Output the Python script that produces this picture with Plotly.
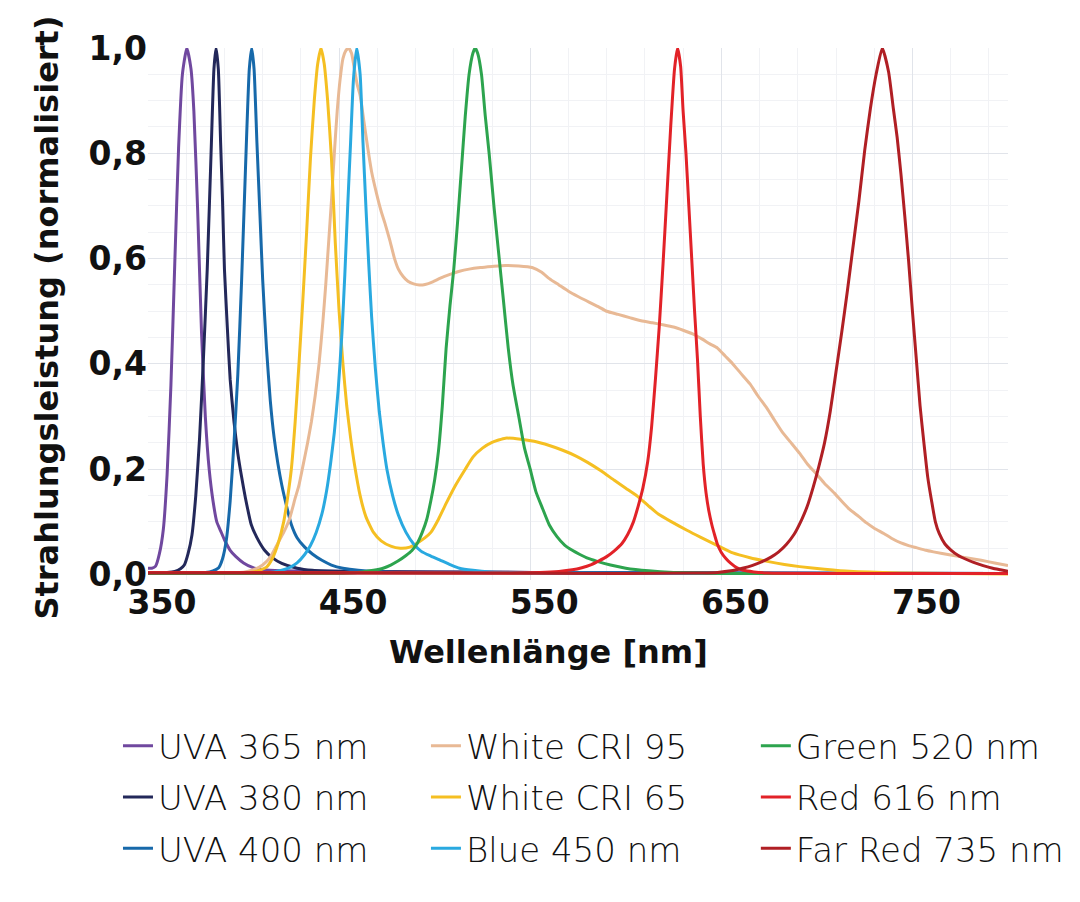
import plotly.graph_objects as go

# Spectral data (wavelength in nm, normalised power)
wl_uva365 = [350, 352, 354, 356, 358, 360, 362, 364, 366, 368, 370.3, 372.5, 374, 376, 378, 380,
             382, 384, 386, 388, 390, 393, 396, 400, 405, 410, 420, 450, 500, 600, 800]
val_uva365 = [0.012, 0.012, 0.016, 0.04, 0.085, 0.19, 0.36, 0.59, 0.81, 0.95, 1.0, 0.96, 0.88,
              0.69, 0.46, 0.30, 0.20, 0.14, 0.10, 0.083, 0.066, 0.046, 0.034, 0.022, 0.013, 0.009,
              0.007, 0.006, 0.005, 0.003, 0.002]

wl_uva380 = [350, 360, 364, 367, 369, 371, 373, 375, 377, 379, 381, 383, 384.5, 385.6, 386.8, 388,
             389, 390, 391.5, 393, 395, 397, 399, 401, 404, 407, 411, 415, 420, 428, 436, 453,
             500, 600, 800]
val_uva380 = [0.003, 0.004, 0.006, 0.011, 0.018, 0.04, 0.075, 0.15, 0.26, 0.41, 0.58, 0.80, 0.96,
              1.0, 0.96, 0.82, 0.71, 0.58, 0.47, 0.37, 0.29, 0.23, 0.185, 0.145, 0.095, 0.07,
              0.046, 0.032, 0.021, 0.012, 0.008, 0.006, 0.005, 0.003, 0.002]

wl_uva400 = [350, 380, 384, 387, 389, 391, 393, 395, 397, 399, 401, 403, 404.25, 405.5, 407, 408.5,
             410, 412, 414, 416, 418, 420, 422.5, 425, 428, 432, 436, 441, 446, 452, 460, 480, 800]
val_uva400 = [0.003, 0.004, 0.007, 0.013, 0.03, 0.066, 0.14, 0.25, 0.38, 0.56, 0.77, 0.96, 1.0,
              0.96, 0.82, 0.69, 0.56, 0.43, 0.33, 0.26, 0.21, 0.17, 0.13, 0.095, 0.07, 0.052,
              0.039, 0.027, 0.018, 0.012, 0.008, 0.004, 0.002]

wl_cri95 = [350, 398, 402, 406, 410, 414, 418, 421, 424, 427, 429, 431, 433.5, 435.5, 437.5, 439.5,
            441.5, 443, 444.5, 446, 447.5, 449, 450.5, 452, 453.5, 455, 456.5, 458, 459.5, 461,
            463, 465, 467, 469.5, 472, 474, 476.5, 479, 481, 483.5, 486, 489, 492, 495, 499,
            503, 508, 513, 518, 524, 530, 537, 544, 551, 556, 560, 565, 570, 575, 581, 586,
            590, 596, 602, 608, 614, 620, 625, 630, 635, 640, 644, 648, 652, 656, 660, 665,
            669, 674, 678, 682, 687, 691, 695, 700, 704, 709, 713, 717, 722, 726, 730, 735,
            739, 744, 748, 752, 757, 761, 770, 778, 786, 793, 800]
val_cri95 = [0.003, 0.004, 0.006, 0.01, 0.018, 0.033, 0.06, 0.08, 0.105, 0.145, 0.17, 0.205, 0.25,
             0.29, 0.34, 0.40, 0.48, 0.55, 0.63, 0.71, 0.80, 0.88, 0.94, 0.98, 0.995, 1.0, 0.99,
             0.96, 0.93, 0.91, 0.86, 0.81, 0.765, 0.725, 0.69, 0.667, 0.635, 0.60, 0.58, 0.566,
             0.557, 0.552, 0.55, 0.551, 0.556, 0.563, 0.57, 0.576, 0.58, 0.583, 0.585, 0.587,
             0.586, 0.583, 0.574, 0.562, 0.55, 0.538, 0.528, 0.517, 0.508, 0.50, 0.494, 0.488,
             0.482, 0.478, 0.474, 0.47, 0.464, 0.457, 0.447, 0.438, 0.43, 0.415, 0.40, 0.383,
             0.362, 0.34, 0.315, 0.292, 0.27, 0.248, 0.23, 0.21, 0.19, 0.173, 0.155, 0.139,
             0.124, 0.11, 0.098, 0.088, 0.078, 0.069, 0.06, 0.055, 0.051, 0.046, 0.043, 0.037,
             0.032, 0.027, 0.022, 0.017]

wl_cri65 = [350, 400, 405, 409, 412, 415, 418, 421, 423, 425, 427, 429, 431, 433, 435, 437, 438.8,
            440.5, 442.2, 444, 446, 448, 450, 452, 454, 456, 458, 461, 464, 468, 472, 477, 482,
            487, 491, 495, 498, 502, 506, 511, 516, 520, 525, 530, 537, 545, 552, 560, 567,
            574, 580, 587, 594, 600, 606, 612, 617, 624, 632, 639, 648, 656, 665, 674, 683,
            691, 704, 717, 743, 770, 800]
val_cri65 = [0.003, 0.003, 0.005, 0.009, 0.014, 0.03, 0.058, 0.10, 0.145, 0.20, 0.29, 0.40, 0.52,
             0.65, 0.79, 0.90, 0.97, 1.0, 0.97, 0.90, 0.79, 0.63, 0.50, 0.40, 0.32, 0.26, 0.21,
             0.15, 0.11, 0.08, 0.064, 0.054, 0.05, 0.052, 0.06, 0.07, 0.08, 0.105, 0.135, 0.17,
             0.20, 0.223, 0.24, 0.251, 0.259, 0.257, 0.253, 0.245, 0.236, 0.225, 0.213, 0.197,
             0.179, 0.164, 0.149, 0.13, 0.115, 0.10, 0.084, 0.071, 0.055, 0.041, 0.032, 0.025,
             0.019, 0.015, 0.01, 0.006, 0.003, 0.002, 0.001]

wl_blue450 = [350, 410, 416, 420, 424, 428, 432, 435, 438, 441, 443.5, 445.5, 447.5, 449.5, 451.5,
              453, 454.5, 456, 457.5, 459.2, 461, 462.5, 464, 465.5, 467, 469, 471, 473, 475,
              478, 481, 485, 489, 493, 498, 503, 508, 513, 520, 529, 550, 600, 800]
val_blue450 = [0.002, 0.003, 0.005, 0.008, 0.013, 0.022, 0.038, 0.055, 0.08, 0.115, 0.16, 0.21,
               0.27, 0.35, 0.46, 0.57, 0.70, 0.82, 0.94, 1.0, 0.95, 0.82, 0.70, 0.59, 0.49, 0.39,
               0.31, 0.25, 0.20, 0.15, 0.113, 0.08, 0.058, 0.044, 0.035, 0.027, 0.019, 0.012,
               0.008, 0.005, 0.003, 0.002, 0.002]

wl_green520 = [350, 455, 462, 468, 473, 477, 481, 485, 488, 491, 493.5, 495.8, 498, 500, 502, 504,
               506, 508, 510, 512, 514, 516, 518, 520, 521.2, 522.5, 524.5, 526.5, 528.5, 531,
               533.5, 536, 538.5, 541, 544, 547, 550, 553, 556.5, 560, 564, 568, 572, 576, 580,
               585, 592, 600, 612, 625, 650, 800]
val_green520 = [0.002, 0.003, 0.005, 0.008, 0.012, 0.018, 0.026, 0.036, 0.045, 0.06, 0.08, 0.104,
                0.14, 0.18, 0.235, 0.32, 0.43, 0.51, 0.58, 0.67, 0.77, 0.87, 0.95, 0.99, 1.0, 0.99,
                0.95, 0.87, 0.80, 0.70, 0.61, 0.52, 0.43, 0.36, 0.30, 0.24, 0.20, 0.157, 0.125,
                0.094, 0.072, 0.056, 0.046, 0.038, 0.031, 0.025, 0.018, 0.012, 0.007, 0.004,
                0.002, 0.002]

wl_red616 = [350, 540, 555, 565, 572, 577, 582, 586, 590, 594, 598, 601, 604, 606.5, 609, 611.5,
             613.5, 615.5, 617.5, 619.5, 621.5, 623.5, 625.5, 627.1, 628.7, 630, 631.5, 633,
             634.5, 636, 637.5, 639, 640.5, 642, 643.5, 645, 646.5, 648, 650, 652.5, 655, 658,
             661.5, 667, 674, 800]
val_red616 = [0.004, 0.003, 0.004, 0.006, 0.009, 0.013, 0.019, 0.026, 0.034, 0.045, 0.059, 0.076,
              0.10, 0.13, 0.165, 0.215, 0.28, 0.37, 0.47, 0.59, 0.72, 0.85, 0.96, 1.0, 0.965,
              0.88, 0.80, 0.70, 0.60, 0.50, 0.41, 0.30, 0.21, 0.155, 0.12, 0.095, 0.075, 0.057,
              0.042, 0.03, 0.021, 0.013, 0.008, 0.005, 0.003, 0.002]

wl_farred735 = [350, 600, 640, 648, 655, 661, 666, 671, 676, 680, 684, 688, 692, 695, 698, 701,
                704, 707, 710, 713, 716, 719, 722, 725, 728, 731, 734.2, 737.5, 740, 742, 744,
                746, 748, 750, 752, 754, 756, 758, 760, 762, 764, 767, 770, 774, 778, 782, 787,
                792, 796, 800]
val_farred735 = [0.003, 0.002, 0.003, 0.004, 0.007, 0.012, 0.017, 0.024, 0.033, 0.043, 0.057,
                 0.076, 0.104, 0.13, 0.165, 0.205, 0.25, 0.31, 0.385, 0.46, 0.54, 0.625, 0.71,
                 0.805, 0.885, 0.95, 1.0, 0.955, 0.885, 0.83, 0.76, 0.68, 0.595, 0.50, 0.41,
                 0.32, 0.25, 0.185, 0.14, 0.10, 0.078, 0.058, 0.047, 0.036, 0.029, 0.023, 0.017,
                 0.012, 0.009, 0.006]

x_ticks = [350, 450, 550, 650, 750]

series = [
    ("UVA 365 nm", wl_uva365, val_uva365, "#70489f", "legend"),
    ("UVA 380 nm", wl_uva380, val_uva380, "#23285a", "legend"),
    ("UVA 400 nm", wl_uva400, val_uva400, "#1769aa", "legend"),
    ("White CRI 95", wl_cri95, val_cri95, "#e8b995", "legend2"),
    ("White CRI 65", wl_cri65, val_cri65, "#f5bf22", "legend2"),
    ("Blue 450 nm", wl_blue450, val_blue450, "#29a9e0", "legend2"),
    ("Green 520 nm", wl_green520, val_green520, "#2da44e", "legend3"),
    ("Red 616 nm", wl_red616, val_red616, "#e22228", "legend3"),
    ("Far Red 735 nm", wl_farred735, val_farred735, "#b01f24", "legend3"),
]

fig = go.Figure()
for name, wl, val, color, leg in series:
    fig.add_trace(go.Scatter(
        x=wl, y=val, name=name, mode="lines",
        line=dict(color=color, width=3, shape="spline", smoothing=0.5),
        legend=leg, legendgroup=name,
    ))

tick_font = dict(family="DejaVu Sans", size=33, color="#111111", weight="bold")
title_font = dict(family="DejaVu Sans", size=32, color="#111111", weight="bold")
legend_font = dict(family="DejaVu Sans", size=34, color="#111111", weight=200)


def legend_box(x):
    return dict(x=x, y=-0.258, xanchor="left", yanchor="top", orientation="v",
                font=legend_font, bgcolor="rgba(0,0,0,0)", tracegroupgap=4, itemwidth=30)


# the page body adds an 8 px offset, so the margins are pulled in by 8 px
fig.update_layout(
    width=1080,
    height=902,
    margin=dict(l=140, r=80, t=40, b=330, autoexpand=False),
    plot_bgcolor="white",
    paper_bgcolor="white",
    separators=", ",
    showlegend=True,
    legend=legend_box(-0.0349),
    legend2=legend_box(0.3232),
    legend3=legend_box(0.7068),
    annotations=[
        dict(text="Wellenlänge [nm]", xref="paper", yref="paper", x=0.466, y=-0.135,
             xanchor="center", yanchor="middle", showarrow=False, font=title_font),
        dict(text="Strahlungsleistung (normalisiert)", xref="paper", yref="paper",
             x=-0.118, y=0.4925, xanchor="center", yanchor="middle", textangle=-90,
             showarrow=False, font=title_font),
    ],
)

fig.update_xaxes(
    range=[350, 800],
    tickvals=x_ticks,
    tickfont=tick_font,
    ticklabelshift=14,
    showline=False,
    zeroline=False,
    showgrid=True,
    gridcolor="#e1e4ea",
    gridwidth=1,
    minor=dict(dtick=20, tick0=350, showgrid=True, gridcolor="#f1f2f5", gridwidth=1),
)
fig.update_yaxes(
    range=[-0.0104, 1.0],
    dtick=0.2,
    tick0=0,
    tickformat=".1f",
    tickfont=tick_font,
    showline=False,
    zeroline=False,
    showgrid=True,
    gridcolor="#e1e4ea",
    gridwidth=1,
    minor=dict(dtick=0.05, showgrid=True, gridcolor="#f1f2f5", gridwidth=1),
)

fig.write_html("out.html")
